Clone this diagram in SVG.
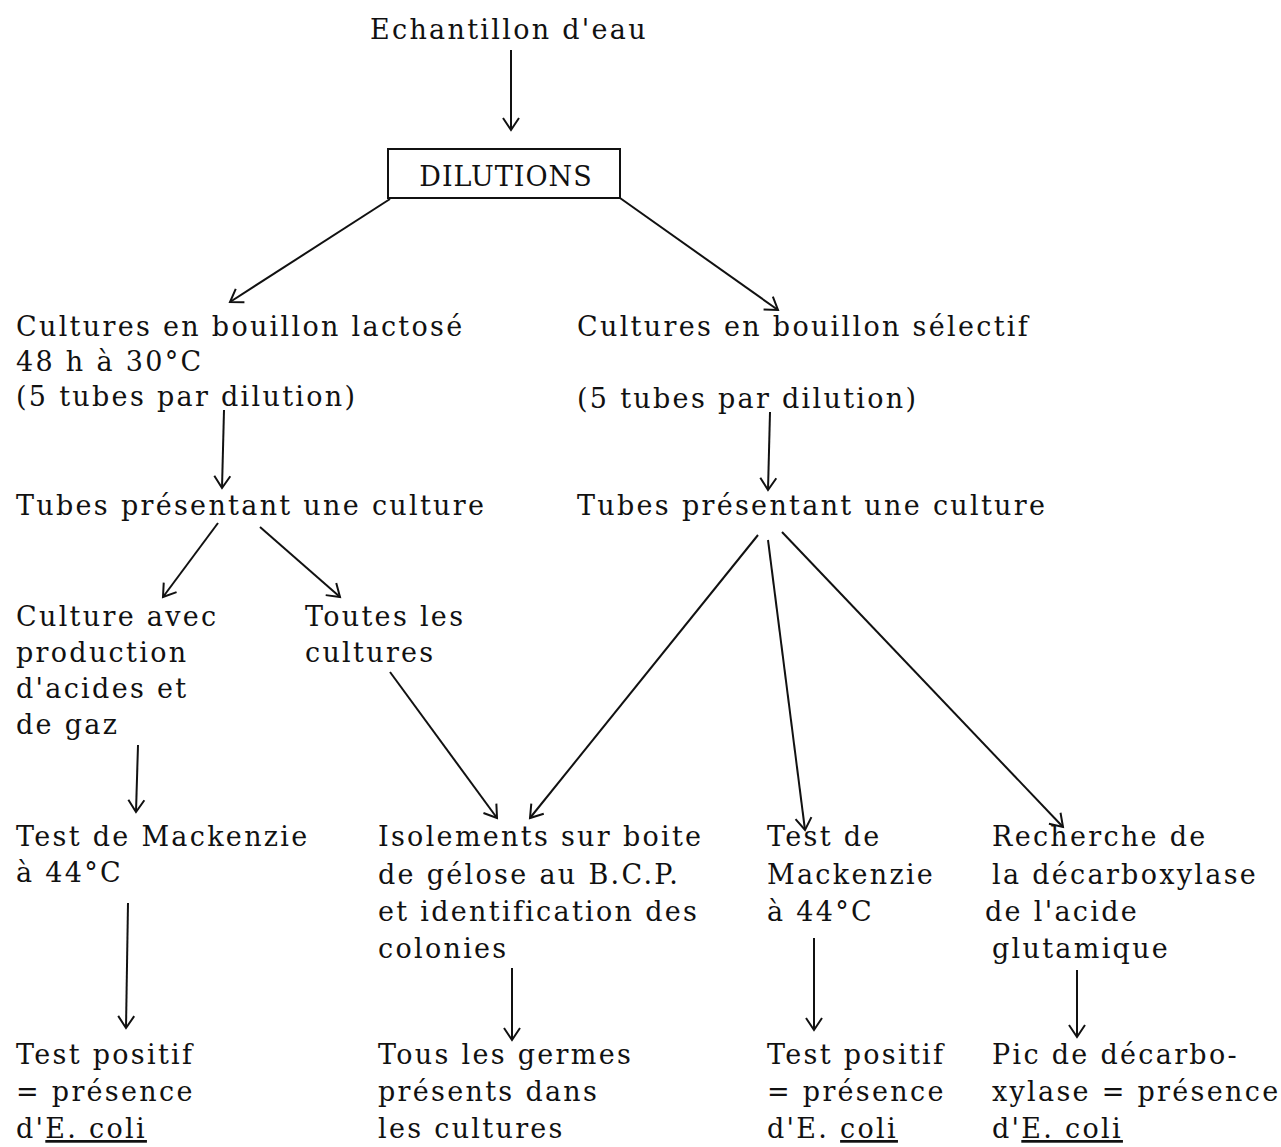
<svg xmlns="http://www.w3.org/2000/svg" width="1281" height="1147" viewBox="0 0 1281 1147">
<defs>
<marker id="ah" markerUnits="userSpaceOnUse" markerWidth="20" markerHeight="20" viewBox="-14 -10 16 20" refX="0" refY="0" orient="auto">
<polyline points="-12,-8 0,0 -12,8" fill="none" stroke="#111" stroke-width="2"/>
</marker>
<style>
text{font-family:"DejaVu Serif","Liberation Serif",serif;font-size:27px;letter-spacing:2.3px;fill:#111;}
.c line{stroke:#111;stroke-width:2;fill:none;marker-end:url(#ah);}
</style>
</defs>
<rect width="1281" height="1147" fill="#fff"/>
<g id="n-echantillon"><text x="370" y="39">Echantillon d'eau</text></g>
<g id="n-dilutions"><rect x="388" y="149" width="232" height="49" fill="none" stroke="#111" stroke-width="2"/><text x="506" y="186" text-anchor="middle" style="letter-spacing:1px">DILUTIONS</text></g>
<g id="n-lactose"><text x="16" y="336">Cultures en bouillon lactosé</text><text x="16" y="371">48 h à 30°C</text><text x="16" y="406">(5 tubes par dilution)</text></g>
<g id="n-selectif"><text x="577" y="336">Cultures en bouillon sélectif</text><text x="577" y="408">(5 tubes par dilution)</text></g>
<g id="n-tubes-l"><text x="16" y="515">Tubes présentant une culture</text></g>
<g id="n-tubes-r"><text x="577" y="515">Tubes présentant une culture</text></g>
<g id="n-culture-avec"><text x="16" y="626">Culture avec</text><text x="16" y="662">production</text><text x="16" y="698">d'acides et</text><text x="16" y="734">de gaz</text></g>
<g id="n-toutes"><text x="305" y="626">Toutes les</text><text x="305" y="662">cultures</text></g>
<g id="n-mack-l"><text x="16" y="846">Test de Mackenzie</text><text x="16" y="882">à 44°C</text></g>
<g id="n-isolements"><text x="378" y="846">Isolements sur boite</text><text x="378" y="884">de gélose au B.C.P.</text><text x="378" y="921">et identification des</text><text x="378" y="958">colonies</text></g>
<g id="n-mack-r"><text x="767" y="846">Test de</text><text x="767" y="884">Mackenzie</text><text x="767" y="921">à 44°C</text></g>
<g id="n-recherche"><text x="992" y="846">Recherche de</text><text x="992" y="884">la décarboxylase</text><text x="985" y="921">de l'acide</text><text x="992" y="958">glutamique</text></g>
<g id="n-pos-l"><text x="16" y="1064">Test positif</text><text x="16" y="1101">= présence</text><text x="16" y="1138">d'<tspan text-decoration="underline">E. coli</tspan></text></g>
<g id="n-germes"><text x="378" y="1064">Tous les germes</text><text x="378" y="1101">présents dans</text><text x="378" y="1138">les cultures</text></g>
<g id="n-pos-r"><text x="767" y="1064">Test positif</text><text x="767" y="1101">= présence</text><text x="767" y="1138">d'E. <tspan text-decoration="underline">coli</tspan></text></g>
<g id="n-pic"><text x="992" y="1064">Pic de décarbo-</text><text x="992" y="1101">xylase = présence</text><text x="992" y="1138">d'<tspan text-decoration="underline">E. coli</tspan></text></g>
<g id="connectors" class="c">
<line x1="511" y1="50" x2="511" y2="130"/>
<line x1="390" y1="199" x2="230" y2="302"/>
<line x1="620" y1="198" x2="778" y2="310"/>
<line x1="224" y1="410" x2="222" y2="488"/>
<line x1="770" y1="412" x2="768" y2="490"/>
<line x1="218" y1="523" x2="163" y2="597"/>
<line x1="260" y1="527" x2="340" y2="597"/>
<line x1="390" y1="672" x2="497" y2="818"/>
<line x1="758" y1="535" x2="530" y2="818"/>
<line x1="768" y1="540" x2="805" y2="830"/>
<line x1="782" y1="532" x2="1063" y2="827"/>
<line x1="138" y1="745" x2="136" y2="812"/>
<line x1="128" y1="903" x2="126" y2="1028"/>
<line x1="512" y1="968" x2="512" y2="1040"/>
<line x1="814" y1="938" x2="814" y2="1030"/>
<line x1="1077" y1="970" x2="1077" y2="1037"/>
</g>
</svg>
